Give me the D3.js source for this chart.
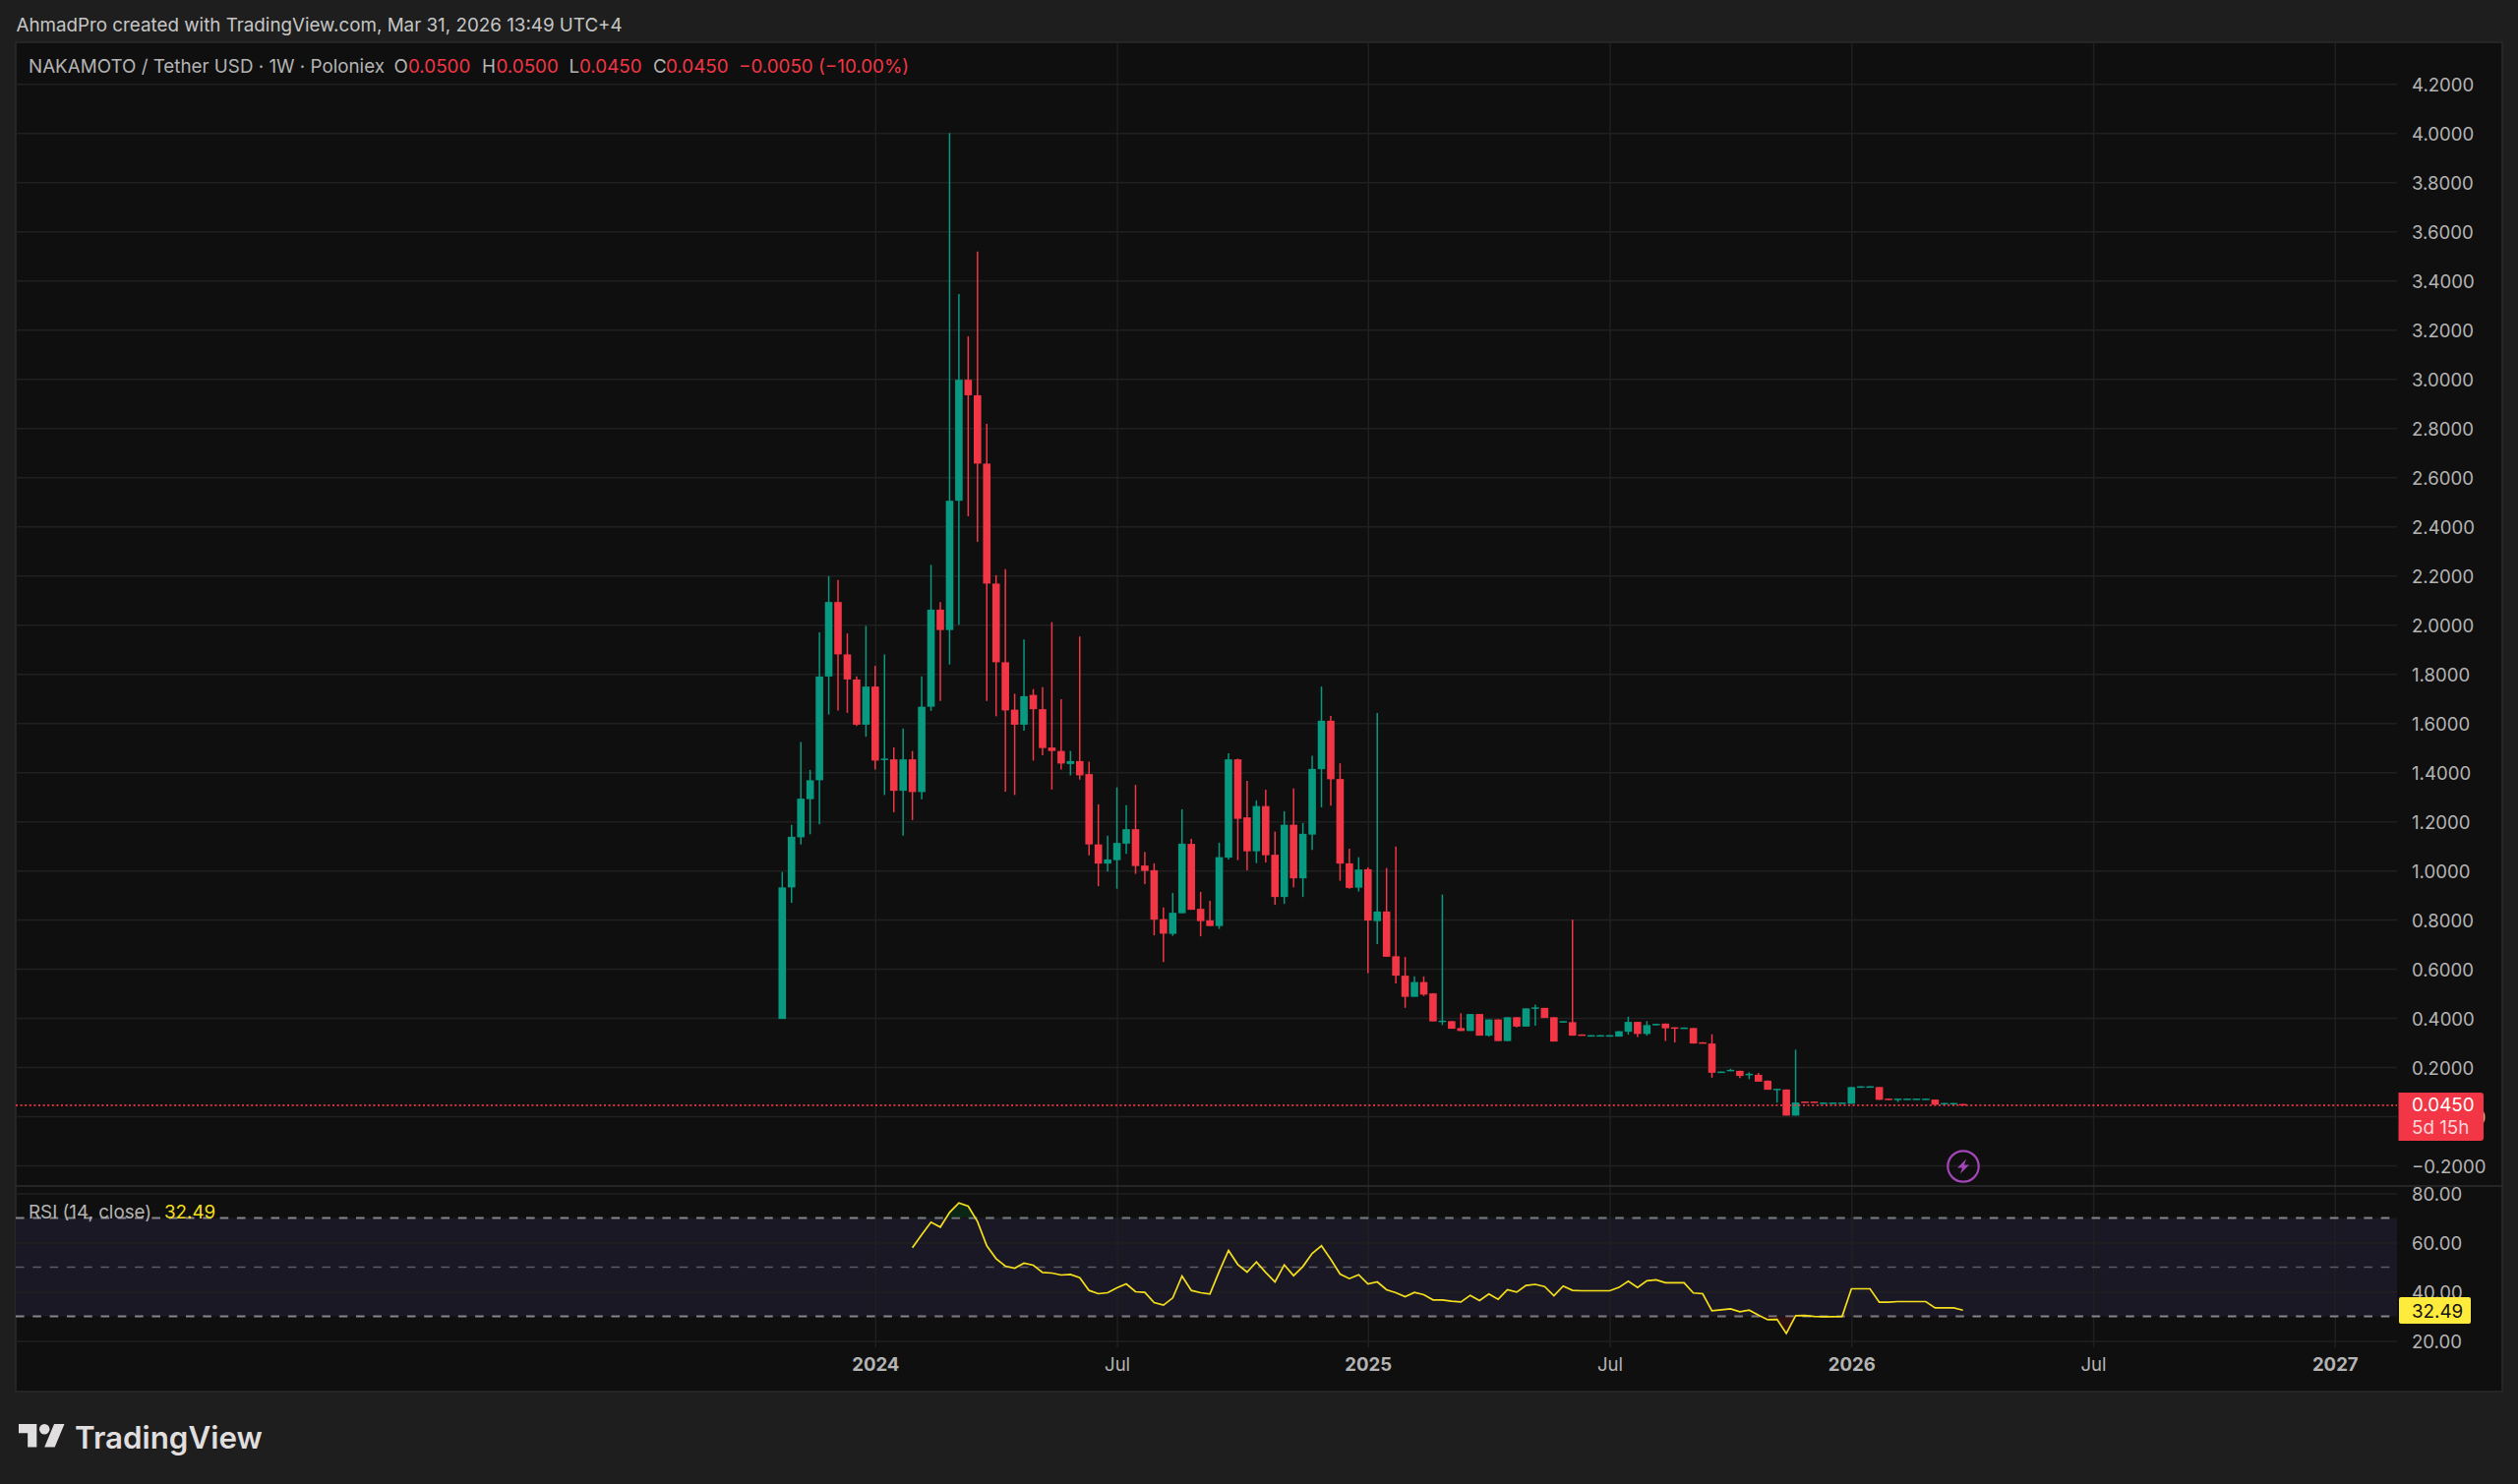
<!DOCTYPE html>
<html>
<meta charset="utf-8">
<title>NAKAMOTO / Tether USD</title>
<style>
html, body { margin: 0; background: #1e1e1e; }
svg { display: block; }
text { font-family: Inter, "Noto Sans", sans-serif; font-size: 18.8px; }
.axis .domain { display: none; }
.axis text { fill: #b4b4b4; font-family: Inter, sans-serif; font-size: 18.6px; }
.grid .domain, .grid text { display: none; }
.grid line { stroke: #202020; stroke-width: 1.5px; }
</style>
<script src="https://d3js.org/d3.v7.min.js"></script>
<body>
<script>
// weekly bars, first one is the week of 23 Oct 2023
const firstWeek = new Date(Date.UTC(2023, 9, 23));
const opens = [
  .396, .931, 1.135, 1.29, 1.367, 1.789, 2.092, 1.879, 1.777, 1.593,
  1.748, 1.45, 1.452, 1.324, 1.452, 1.319, 1.666, 2.061, 1.978, 2.504,
  2.996, 2.933, 2.655, 2.167, 1.847, 1.654, 1.593, 1.714, 1.656, 1.5,
  1.486, 1.433, 1.445, 1.392, 1.106, 1.028, 1.042, 1.109, 1.168, 1.02,
  1.001, .802, .742, .826, 1.108, .844, .797, .774, 1.052, 1.452,
  1.216, 1.078, 1.262, 1.064, .892, 1.186, .968, 1.146, 1.412, 1.609,
  1.372, 1.029, .93, 1.005, .794, .833, .651, .572, .486, .546,
  .5, .385, .387, .359, .347, .416, .328, .394, .306, .403,
  .365, .44, .441, .403, .382, .383, .333, .324, .324, .324,
  .324, .344, .384, .335, .37, .377, .362, .358, .359, .301,
  .296, .176, .184, .185, .169, .169, .145, .108, .109, .003,
  .06, .06, .051, .051, .051, .051, .116, .116, .119, .072,
  .068, .068, .068, .068, .068, .048, .048, .05];
const closes = [
  .931, 1.137, 1.292, 1.367, 1.789, 2.092, 1.879, 1.777, 1.593, 1.748,
  1.447, 1.455, 1.324, 1.452, 1.319, 1.666, 2.061, 1.978, 2.504, 2.996,
  2.933, 2.655, 2.167, 1.847, 1.651, 1.593, 1.709, 1.656, 1.498, 1.486,
  1.435, 1.445, 1.387, 1.106, 1.028, 1.045, 1.112, 1.168, 1.018, .998,
  .8, .743, .828, 1.109, .84, .794, .774, 1.054, 1.452, 1.21,
  1.078, 1.262, 1.062, .892, 1.186, .968, 1.149, 1.413, 1.609, 1.371,
  1.028, .929, 1.004, .796, .833, .649, .572, .486, .546, .495,
  .386, .389, .356, .347, .416, .328, .394, .306, .403, .365,
  .439, .443, .4, .304, .387, .328, .328, .33, .33, .33,
  .346, .384, .335, .371, .376, .358, .358, .361, .296, .296,
  .177, .182, .189, .164, .173, .141, .108, .112, .003, .056,
  .056, .056, .056, .056, .056, .119, .122, .122, .067, .067,
  .072, .072, .072, .072, .047, .054, .054, .045];
const highs = [
  .994, 1.186, 1.523, 1.409, 1.969, 2.197, 2.182, 1.964, 1.79, 1.995,
  1.833, 1.879, 1.501, 1.578, 1.486, 1.79, 2.243, 2.092, 4.0, 3.345,
  3.173, 3.518, 2.817, 2.201, 2.226, 1.719, 1.94, 1.738, 1.746, 2.01,
  1.697, 1.486, 1.952, 1.443, 1.269, 1.142, 1.338, 1.266, 1.348, 1.076,
  1.029, .849, .909, 1.249, 1.129, .913, .876, 1.113, 1.477, 1.455,
  1.365, 1.285, 1.329, 1.158, 1.241, 1.334, 1.193, 1.467, 1.748, 1.629,
  1.436, 1.089, 1.054, 1.013, 1.641, 1.01, 1.098, .648, .569, .569,
  .501, .902, .387, .419, .416, .416, .394, .394, .403, .403,
  .439, .454, .441, .403, .387, .8, .333, .33, .33, .33,
  .346, .405, .384, .387, .376, .377, .362, .361, .359, .301,
  .334, .182, .193, .185, .179, .176, .145, .112, .109, .271,
  .06, .06, .056, .056, .056, .119, .122, .122, .119, .072,
  .072, .072, .072, .072, .068, .054, .054, .05];
const lows = [
  .396, .868, 1.106, 1.147, 1.188, 1.634, 1.651, 1.641, 1.588, 1.544,
  1.411, 1.307, 1.237, 1.142, 1.205, 1.29, 1.649, 1.69, 1.838, 2.0,
  2.441, 2.337, 1.69, 1.627, 1.321, 1.307, 1.569, 1.447, 1.469, 1.329,
  1.411, 1.387, 1.37, 1.062, .936, .996, .926, 1.068, .986, .945,
  .736, .627, .734, .826, .84, .732, .774, .762, 1.045, 1.042,
  1.001, 1.03, 1.033, .86, .864, .932, .892, 1.084, 1.257, 1.264,
  .958, .926, .914, .582, .7, .649, .54, .441, .486, .489,
  .386, .371, .356, .347, .347, .328, .324, .306, .306, .361,
  .365, .368, .4, .304, .382, .328, .328, .324, .324, .324,
  .324, .332, .322, .328, .37, .306, .3, .358, .296, .296,
  .157, .176, .184, .155, .151, .141, .108, .056, .003, .003,
  .056, .056, .051, .051, .051, .051, .116, .116, .067, .067,
  .058, .068, .068, .068, .047, .048, .048, .045];

// RSI only starts on bar 14
const rsiStart = 14;
const rsiValues = [
  57.87, 63.2, 68.27, 66.27, 72.27, 76.13, 74.8, 68.53, 58.67, 53.47,
  50.4, 49.6, 51.6, 50.8, 47.87, 47.6, 46.8, 47.07, 45.73, 40.53,
  39.2, 39.6, 41.6, 43.2, 40.0, 39.73, 35.6, 34.53, 37.47, 46.4,
  40.53, 39.6, 39.07, 48.27, 56.8, 51.07, 48.0, 52.13, 47.87, 44.0,
  50.93, 46.53, 50.27, 55.6, 58.67, 53.2, 47.2, 45.33, 46.93, 43.2,
  44.0, 40.8, 39.6, 38.0, 39.73, 38.8, 36.67, 36.67, 36.13, 35.87,
  38.53, 36.4, 39.07, 36.93, 40.8, 39.87, 42.53, 43.0, 42.1, 38.4,
  42.3, 40.55, 40.4, 40.4, 40.4, 40.4, 41.76, 44.3, 41.76, 44.43,
  44.83, 43.63, 43.63, 43.63, 39.5, 39.2, 32.26, 32.66, 33.06, 31.85,
  32.5, 30.5, 28.64, 28.77, 23.02, 30.25, 30.38, 29.98, 29.85, 29.85,
  29.98, 41.2, 41.2, 41.2, 35.73, 35.73, 36, 36, 36, 36,
  33.46, 33.46, 33.46, 32.49];

const priceTicks = [-0.2, 0, 0.2, 0.4, 0.6, 0.8, 1, 1.2, 1.4, 1.6, 1.8, 2, 2.2, 2.4, 2.6, 2.8, 3, 3.2, 3.4, 3.6, 3.8, 4, 4.2];
const rsiTicks = [20, 40, 60, 80];
const rsiLevels = [30, 50, 70];
const timeTicks = [
  new Date(Date.UTC(2024, 0, 1)), new Date(Date.UTC(2024, 6, 1)), new Date(Date.UTC(2025, 0, 6)),
  new Date(Date.UTC(2025, 6, 7)), new Date(Date.UTC(2026, 0, 5)), new Date(Date.UTC(2026, 6, 6)),
  new Date(Date.UTC(2027, 0, 4))];
const timeLabels = ["2024", "Jul", "2025", "Jul", "2026", "Jul", "2027"];
const lastPrice = 0.045;
const lastRsi = 32.49;

const up = "#089981", down = "#f23645", rsiColor = "#f5df1d";
const chartLeft = 16, chartRight = 2437, outerRight = 2544;
const chartTop = 43, paneDivider = 1206, gridBottom = 1370, chartBottom = 1415;

const bars = opens.map((o, i) => ({
  date: d3.utcDay.offset(firstWeek, i * 7), open: o, close: closes[i], high: highs[i], low: lows[i]
}));
const rsiData = rsiValues.map((v, i) => ({ date: bars[i + rsiStart].date, value: v }));

const x = d3.scaleUtc()
  .domain([firstWeek, timeTicks[6]])
  .range([795.3, 2373.8]);
const y = d3.scaleLinear().domain([-0.2, 4.2]).range([1185.1, 85.2]);
const yRsi = d3.scaleLinear().domain([20, 80]).range([1363.5, 1213.5]);

const svg = d3.select("body").append("svg").attr("width", 2560).attr("height", 1509);

svg.append("rect").attr("width", 2560).attr("height", 1509).attr("fill", "#1e1e1e");
svg.append("rect")
  .attr("x", chartLeft).attr("y", chartTop)
  .attr("width", outerRight - chartLeft).attr("height", chartBottom - chartTop)
  .attr("fill", "#0f0f0f").attr("stroke", "#2b2b2b").attr("stroke-width", 1.5);

// rsi band goes under the grid
svg.append("rect")
  .attr("x", chartLeft).attr("y", yRsi(70))
  .attr("width", chartRight - chartLeft).attr("height", yRsi(30) - yRsi(70))
  .attr("fill", "#1a1824");

svg.append("g").attr("class", "grid")
  .attr("transform", `translate(0,${gridBottom})`)
  .call(d3.axisBottom(x).tickValues(timeTicks).tickSize(chartTop - gridBottom).tickSizeOuter(0));
svg.append("g").attr("class", "grid")
  .attr("transform", `translate(${chartLeft},0)`)
  .call(d3.axisRight(y).tickValues(priceTicks).tickSize(chartRight - chartLeft).tickSizeOuter(0));
svg.append("g").attr("class", "grid")
  .attr("transform", `translate(${chartLeft},0)`)
  .call(d3.axisRight(yRsi).tickValues(rsiTicks).tickSize(chartRight - chartLeft).tickSizeOuter(0));

svg.append("line")
  .attr("x1", chartLeft).attr("x2", outerRight)
  .attr("y1", paneDivider).attr("y2", paneDivider)
  .attr("stroke", "#2e2e2e").attr("stroke-width", 1.5);

// candles
const candle = svg.append("g").selectAll("g").data(bars).join("g")
  .attr("fill", d => d.close >= d.open ? up : down)
  .attr("stroke", d => d.close >= d.open ? up : down);
candle.append("line")
  .attr("x1", d => x(d.date)).attr("x2", d => x(d.date))
  .attr("y1", d => y(d.high)).attr("y2", d => y(d.low))
  .attr("stroke-width", 1.5);
candle.append("rect")
  .attr("x", d => x(d.date) - 3.8)
  .attr("width", 7.6)
  .attr("y", d => y(Math.max(d.open, d.close)))
  .attr("height", d => Math.max(1.5, Math.abs(y(d.open) - y(d.close))))
  .attr("stroke", "none");

// last price line
svg.append("line")
  .attr("x1", chartLeft).attr("x2", chartRight)
  .attr("y1", y(lastPrice)).attr("y2", y(lastPrice))
  .attr("stroke", down).attr("stroke-width", 1.8).attr("stroke-dasharray", "2 2.6");

// rsi levels
svg.append("g").selectAll("line").data(rsiLevels).join("line")
  .attr("x1", chartLeft).attr("x2", chartRight - 3)
  .attr("y1", d => yRsi(d)).attr("y2", d => yRsi(d))
  .attr("stroke", d => d === 50 ? "#5c5c62" : "#85858a")
  .attr("stroke-width", d => d === 50 ? 1.3 : 1.8)
  .attr("stroke-dasharray", "8.6 8.7");

// overbought / oversold fill
const defs = svg.append("defs");
defs.append("clipPath").attr("id", "above70").append("rect")
  .attr("x", chartLeft).attr("y", yRsi(80)).attr("width", chartRight - chartLeft).attr("height", yRsi(70) - yRsi(80));
defs.append("clipPath").attr("id", "below30").append("rect")
  .attr("x", chartLeft).attr("y", yRsi(30)).attr("width", chartRight - chartLeft).attr("height", yRsi(20) - yRsi(30));
svg.append("path").datum(rsiData)
  .attr("clip-path", "url(#above70)")
  .attr("fill", "#0b3a1c").attr("opacity", 0.55)
  .attr("d", d3.area().x(d => x(d.date)).y0(yRsi(70)).y1(d => yRsi(d.value)));
svg.append("path").datum(rsiData)
  .attr("clip-path", "url(#below30)")
  .attr("fill", "#4a1414").attr("opacity", 0.55)
  .attr("d", d3.area().x(d => x(d.date)).y0(yRsi(30)).y1(d => yRsi(d.value)));
svg.append("path").datum(rsiData)
  .attr("fill", "none").attr("stroke", rsiColor).attr("stroke-width", 1.7)
  .attr("d", d3.line().x(d => x(d.date)).y(d => yRsi(d.value)));

// axes
const fmtPrice = d => (d < 0 ? "\u2212" : "") + Math.abs(d).toFixed(4);
const priceAxis = svg.append("g").attr("class", "axis")
  .attr("transform", "translate(2452,0)")
  .call(d3.axisRight(y).tickValues(priceTicks).tickSize(0).tickPadding(0).tickFormat(fmtPrice));
// the zero label sits behind the red tag, only its last digit sticks out
priceAxis.selectAll(".tick text").filter(d => d === 0)
  .attr("text-anchor", "end").attr("x", 75.5).text("0");
const rsiAxis = svg.append("g").attr("class", "axis")
  .attr("transform", "translate(2452,0)")
  .call(d3.axisRight(yRsi).tickValues(rsiTicks).tickSize(0).tickPadding(0).tickFormat(d => d.toFixed(2)));
priceAxis.selectAll(".tick text").attr("dy", "0.38em");
rsiAxis.selectAll(".tick text").attr("dy", "0.38em");
const timeAxis = svg.append("g").attr("class", "axis")
  .attr("transform", "translate(0,1381)")
  .call(d3.axisBottom(x).tickValues(timeTicks).tickSize(0).tickPadding(0)
    .tickFormat((d, i) => timeLabels[i]));
timeAxis.selectAll("text")
  .style("font-weight", (d, i) => timeLabels[i] === "Jul" ? 400 : 700);

// last value labels
const priceTag = svg.append("g");
priceTag.append("path")
  .attr("d", "M2438.5,1111H2522a3,3 0 0 1 3,3V1157a3,3 0 0 1 -3,3H2438.5Z")
  .attr("fill", down);
priceTag.append("text").attr("x", 2452).attr("y", y(lastPrice)).attr("dy", "0.35em")
  .attr("fill", "#fff").text(lastPrice.toFixed(4));
priceTag.append("text").attr("x", 2452).attr("y", 1146).attr("dy", "0.35em")
  .attr("fill", "#fbd5d9").text("5d 15h");

const rsiTag = svg.append("g");
rsiTag.append("rect").attr("x", 2439).attr("y", 1319).attr("width", 73).attr("height", 27).attr("rx", 2)
  .attr("fill", "#ffeb3b");
rsiTag.append("text").attr("x", 2452).attr("y", 1333).attr("dy", "0.35em")
  .attr("fill", "#131313").text(lastRsi.toFixed(2));

// legend
const legend = [
  { x: 29, text: "NAKAMOTO / Tether USD \u00b7 1W \u00b7 Poloniex", fill: "#b4b4b4" },
  { x: 400.5, text: "O", fill: "#b4b4b4" }, { x: 415, text: "0.0500", fill: down },
  { x: 490, text: "H", fill: "#b4b4b4" }, { x: 504.5, text: "0.0500", fill: down },
  { x: 578.5, text: "L", fill: "#b4b4b4" }, { x: 589, text: "0.0450", fill: down },
  { x: 664, text: "C", fill: "#b4b4b4" }, { x: 677, text: "0.0450", fill: down },
  { x: 751, text: "\u22120.0050 (\u221210.00%)", fill: down }
];
svg.append("g").selectAll("text").data(legend).join("text")
  .attr("x", d => d.x).attr("y", 67.5).attr("dy", "0.35em")
  .attr("fill", d => d.fill).text(d => d.text);

svg.append("text").attr("x", 16.5).attr("y", 25).attr("dy", "0.35em")
  .attr("fill", "#c6c6c6").text("AhmadPro created with TradingView.com, Mar 31, 2026 13:49 UTC+4");

svg.append("text").attr("x", 29).attr("y", 1232.5).attr("dy", "0.35em")
  .attr("fill", "#b4b4b4").text("RSI (14, close)");
svg.append("text").attr("x", 167).attr("y", 1232.5).attr("dy", "0.35em")
  .attr("fill", rsiColor).text(lastRsi.toFixed(2));

// purple flash icon
const flash = svg.append("g").attr("transform", "translate(1996,1186)");
flash.append("circle").attr("r", 15.7).attr("fill", "none").attr("stroke", "#a346b8").attr("stroke-width", 2.2);
flash.append("path").attr("d", "M3,-7.5L-6,1.5H-1L-3,7.5L6,-1.5H1Z").attr("fill", "#a346b8");

// TradingView logo
const logo = svg.append("g").attr("transform", "translate(19,1442.8) scale(1.31)").attr("fill", "#e0dede");
logo.append("path").attr("d", "M14 22H7V11H0V4h14v18zM28 22h-8l7.5-18h8L28 22z");
logo.append("circle").attr("cx", 20).attr("cy", 8).attr("r", 4);
svg.append("text").attr("x", 76).attr("y", 1473)
  .attr("fill", "#e0dede").style("font-size", "31.3px").style("font-weight", 600)
  .text("TradingView");
</script>
</body>
</html>
